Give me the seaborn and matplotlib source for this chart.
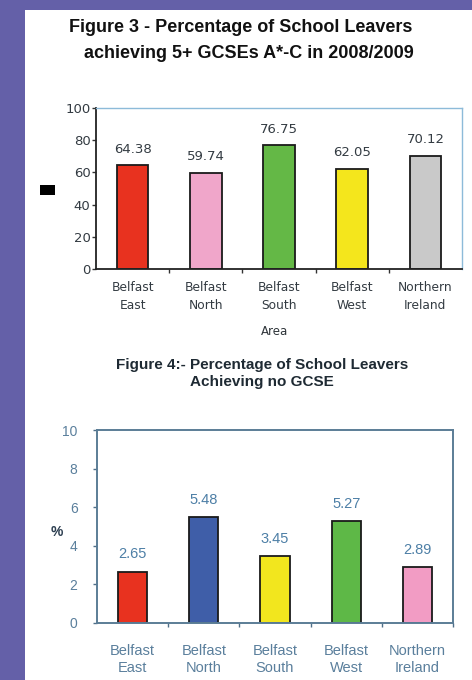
import matplotlib
matplotlib.use("Agg")
import matplotlib.pyplot as plt
from matplotlib.patches import Rectangle
from matplotlib.ticker import FixedLocator
import pandas as pd
import seaborn as sns

# Figure 3: school leavers achieving 5+ GCSEs A*-C, 2008/2009
areas_fig3 = ["Belfast\nEast", "Belfast\nNorth", "Belfast\nSouth", "Belfast\nWest", "Northern\nIreland"]
values_fig3 = [64.38, 59.74, 76.75, 62.05, 70.12]
labels_fig3 = ["64.38", "59.74", "76.75", "62.05", "70.12"]
colors_fig3 = ["#E8321F", "#F0A6CA", "#64B846", "#F4E61C", "#C9C9C9"]
yticks_fig3 = [0, 20, 40, 60, 80, 100]

# Figure 4: school leavers achieving no GCSE
areas_fig4 = ["Belfast\nEast", "Belfast\nNorth", "Belfast\nSouth", "Belfast\nWest", "Northern\nIreland"]
values_fig4 = [2.65, 5.48, 3.45, 5.27, 2.89]
labels_fig4 = ["2.65", "5.48", "3.45", "5.27", "2.89"]
colors_fig4 = ["#E8321F", "#3F5EA8", "#F2E61E", "#5EB847", "#F29CC4"]
yticks_fig4 = [0, 2, 4, 6, 8, 10]

W, H = 472, 680
fig = plt.figure(figsize=(W / 100, H / 100), dpi=100)
fig.patch.set_facecolor("#6460A8")


def fx(px):
    return px / W


def fy(py):
    return 1 - py / H


# white page area behind both charts
fig.patches.append(Rectangle((fx(25), 0), 1 - fx(25), fy(10), transform=fig.transFigure,
                             facecolor="white", edgecolor="none", zorder=-5))

# ---------------- Figure 3 ----------------
ax1 = fig.add_axes([fx(96), fy(269), fx(462) - fx(96), fy(108) - fy(269)])
ax1.set_zorder(2)
df1 = pd.DataFrame({"area": areas_fig3, "value": values_fig3})
sns.barplot(data=df1, x="area", y="value", hue="area", palette=colors_fig3, legend=False,
            width=0.43, edgecolor="#1a1a1a", linewidth=1.3, ax=ax1, saturation=1)
ax1.set_xlim(-0.5, 4.5)
ax1.set_ylim(0, 100)
ax1.set_yticks(yticks_fig3)
ax1.set_xlabel("")
ax1.set_ylabel("")
tc1 = "#333b42"
ax1.tick_params(axis="y", length=3, width=1, color="#333333", labelsize=9.5, labelcolor=tc1, pad=1,
                labelfontfamily="DejaVu Sans")
ax1.tick_params(axis="x", which="major", length=0, labelsize=8.8, labelcolor=tc1, pad=9,
                labelfontfamily="DejaVu Sans")
for lab in ax1.get_xticklabels():
    lab.set_linespacing(1.45)
ax1.xaxis.set_minor_locator(FixedLocator([0.5, 1.5, 2.5, 3.5]))
ax1.tick_params(axis="x", which="minor", length=3, width=1, color="#333333")
for side in ("left", "bottom"):
    ax1.spines[side].set_color("#222222")
    ax1.spines[side].set_linewidth(1.3)
for side in ("top", "right"):
    ax1.spines[side].set_color("#8DBBD9")
    ax1.spines[side].set_linewidth(1.0)
for i, (v, t) in enumerate(zip(values_fig3, labels_fig3)):
    ax1.text(i, v + 6, t, ha="center", va="bottom", fontsize=9.5, color=tc1, family="DejaVu Sans")

fig.text(fx(241), fy(28), "Figure 3 - Percentage of School Leavers", ha="center", va="center",
         fontsize=13, fontweight="bold", family="Liberation Sans", color="#111111")
fig.text(fx(249), fy(53), "achieving 5+ GCSEs A*-C in 2008/2009", ha="center", va="center",
         fontsize=13, fontweight="bold", family="Liberation Sans", color="#111111")
fig.text(fx(275), fy(331), "Area", ha="center", va="center", fontsize=8.5,
         family="DejaVu Sans", color="#2e3439")
fig.patches.append(Rectangle((fx(40), fy(195)), fx(55) - fx(40), fy(185) - fy(195),
                             transform=fig.transFigure, facecolor="black", edgecolor="none"))

# ---------------- Figure 4 ----------------
ax2 = fig.add_axes([fx(97), fy(623), fx(453) - fx(97), fy(430) - fy(623)])
ax2.set_zorder(2)
df2 = pd.DataFrame({"area": areas_fig4, "value": values_fig4})
sns.barplot(data=df2, x="area", y="value", hue="area", palette=colors_fig4, legend=False,
            width=0.41, edgecolor="#1a1a1a", linewidth=1.3, ax=ax2, saturation=1)
ax2.set_xlim(-0.5, 4.5)
ax2.set_ylim(0, 10)
ax2.set_yticks(yticks_fig4)
ax2.set_xlabel("")
ax2.set_ylabel("%", rotation=0, fontsize=10, fontweight="bold", color="#2c3e50",
               family="Liberation Sans", ha="center", va="center")
ax2.yaxis.set_label_coords(-0.112, 0.47)
tc2 = "#5a7f9c"
ax2.tick_params(axis="y", length=3, width=1, color="#4f6f88", labelsize=10, labelcolor=tc2, pad=11,
                labelfontfamily="Liberation Sans")
ax2.tick_params(axis="x", which="major", length=0, labelsize=10.5, labelcolor=tc2, pad=15,
                labelfontfamily="Liberation Sans")
for lab in ax2.get_xticklabels():
    lab.set_linespacing(1.28)
ax2.xaxis.set_minor_locator(FixedLocator([0.5, 1.5, 2.5, 3.5, 4.5]))
ax2.tick_params(axis="x", which="minor", length=3, width=1, color="#4f6f88")
for side in ("left", "bottom", "top", "right"):
    ax2.spines[side].set_color("#5b7d96")
    ax2.spines[side].set_linewidth(1.4)
for i, (v, t) in enumerate(zip(values_fig4, labels_fig4)):
    ax2.text(i, v + 0.55, t, ha="center", va="bottom", fontsize=10.5, color="#4d7fa6",
             family="Liberation Sans")

fig.text(fx(262), fy(365), "Figure 4:- Percentage of School Leavers", ha="center", va="center",
         fontsize=11, fontweight="bold", family="Liberation Sans", color="#1e2a33")
fig.text(fx(262), fy(382), "Achieving no GCSE", ha="center", va="center",
         fontsize=11, fontweight="bold", family="Liberation Sans", color="#1e2a33")

fig.savefig("out.png", dpi=100, facecolor=fig.get_facecolor())
